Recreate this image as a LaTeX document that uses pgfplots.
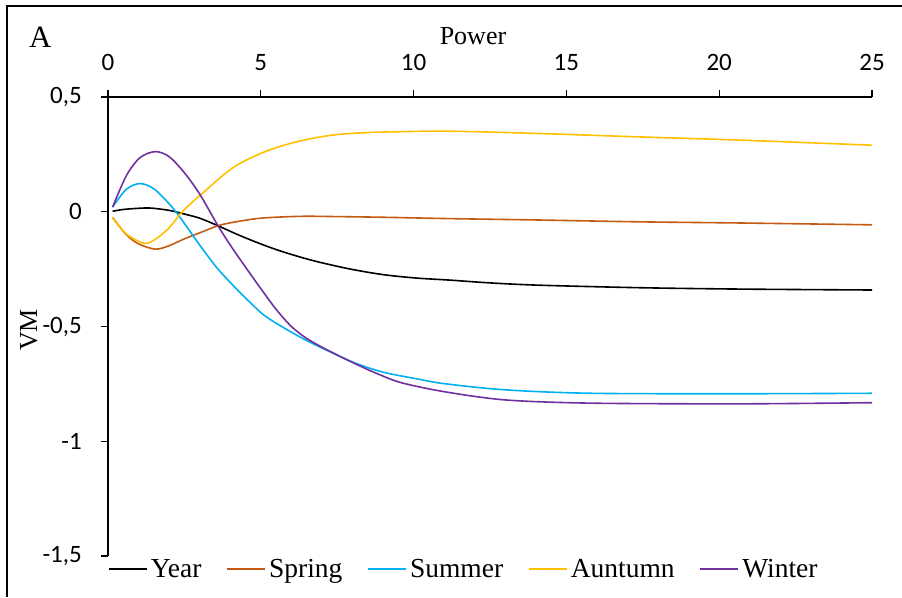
\documentclass[border=0pt]{standalone}
\usepackage{pgfplots}
\pgfplotsset{compat=1.18}
\usepackage{fontspec}
\setmainfont{Liberation Serif}
\newfontfamily\calib{Carlito}

\definecolor{cyear}{HTML}{000000}
\definecolor{cspring}{HTML}{C55A11}
\definecolor{csummer}{HTML}{00B0F0}
\definecolor{cautumn}{HTML}{FFC000}
\definecolor{cwinter}{HTML}{7030A0}

\begin{document}
\begin{tikzpicture}
\path[use as bounding box] (0,0) rectangle (902pt,597pt);
% panel frame
\draw[line width=1.5pt] (7pt,0pt) -- (7pt,591pt) -- (902pt,591pt);
\node[anchor=base west, inner sep=0pt, font=\fontsize{31}{35}\selectfont] at (29pt,549pt) {A};
\node[anchor=base, inner sep=0pt, font=\fontsize{26}{30}\selectfont] at (473pt,552pt) {Power};
\node[anchor=base, rotate=90, inner sep=0pt, font=\fontsize{26}{30}\selectfont] at (37pt,267pt) {VM};

\begin{axis}[
  at={(108pt,41pt)}, anchor=south west,
  scale only axis, width=764pt, height=459pt,
  xmin=0, xmax=25, ymin=-1.5, ymax=0.5,
  axis x line=top, axis y line=left,
  axis line style={-, line width=1.3pt},
  xtick={0,5,10,15,20,25},
  ytick={-1.5,-1,-0.5,0,0.5},
  tick align=outside, major tick length=7pt,
  major tick style={line width=1.3pt, black},
  /pgf/number format/assume math mode=true,
  /pgf/number format/use comma,
  ticklabel style={font=\calib\fontsize{25}{30}\selectfont, inner sep=0pt},
  xticklabel style={anchor=south, yshift=19pt},
  yticklabel style={anchor=east, xshift=-19pt},
  legend columns=5,
  legend style={at={(rel axis cs:0,0)}, anchor=west, xshift=0pt, yshift=-13pt,
    draw=none, fill=none, inner sep=0pt,
    font=\fontsize{27.5}{31}\selectfont,
    nodes={inner xsep=3pt, inner ysep=0pt},
    /tikz/every even column/.append style={column sep=22pt}},
  legend image code/.code={\draw[#1] (0pt,0pt) -- (38pt,0pt);},
  every axis plot/.append style={line width=1.6pt, smooth, no markers},
]
\addplot[cyear] coordinates {
 (0.15,0.002) (0.5,0.01) (1,0.015) (1.4,0.016) (2,0.006) (2.5,-0.01) (3,-0.028)
 (3.6,-0.061) (4.2,-0.097) (4.8,-0.13) (5.4,-0.16) (6,-0.186) (6.8,-0.216)
 (7.9,-0.249) (9,-0.274) (10.1,-0.289) (11.2,-0.298) (12.5,-0.31) (14.1,-0.32)
 (17.4,-0.331) (20.7,-0.337) (25,-0.341)};
\addlegendentry{Year}
\addplot[cspring] coordinates {
 (0.15,-0.025) (0.6,-0.1) (1,-0.14) (1.55,-0.163) (2,-0.148) (2.5,-0.118)
 (3,-0.092) (3.6,-0.061) (4.1,-0.046) (5,-0.028) (6.3,-0.02) (7.4,-0.021)
 (9,-0.024) (11.2,-0.03) (14.1,-0.036) (17.4,-0.044) (20.7,-0.049) (25,-0.057)};
\addlegendentry{Spring}
\addplot[csummer] coordinates {
 (0.15,0.02) (0.6,0.098) (1.05,0.123) (1.5,0.1) (2,0.035) (2.36,-0.025)
 (3,-0.145) (3.55,-0.242) (4.1,-0.322) (4.65,-0.395) (5.2,-0.46) (6.3,-0.547)
 (7.4,-0.619) (8.1,-0.66) (9,-0.699) (10.1,-0.728) (11,-0.749) (13,-0.776)
 (15.8,-0.791) (20.7,-0.793) (25,-0.791)};
\addlegendentry{Summer}
\addplot[cautumn] coordinates {
 (0.15,-0.025) (0.6,-0.097) (1.2,-0.138) (1.6,-0.115) (2,-0.07) (2.46,0.004)
 (3,0.07) (4.1,0.193) (5.2,0.265) (6.3,0.309) (7.4,0.335) (8.5,0.345)
 (9.6,0.349) (11.2,0.351) (14.1,0.341) (17.4,0.326) (20.7,0.312) (25,0.29)};
\addlegendentry{Auntumn}
\addplot[cwinter] coordinates {
 (0.15,0.02) (0.6,0.157) (1.05,0.236) (1.55,0.262) (2,0.24) (2.5,0.17)
 (3,0.077) (3.6,-0.061) (4,-0.145) (4.43,-0.228) (5,-0.335) (5.5,-0.425)
 (6,-0.5) (6.5,-0.552) (7,-0.59) (7.4,-0.617) (8.1,-0.663) (8.8,-0.705)
 (9.6,-0.745) (11,-0.784) (13,-0.82) (15.8,-0.834) (20.7,-0.837) (25,-0.832)};
\addlegendentry{Winter}
\end{axis}
\end{tikzpicture}
\end{document}
